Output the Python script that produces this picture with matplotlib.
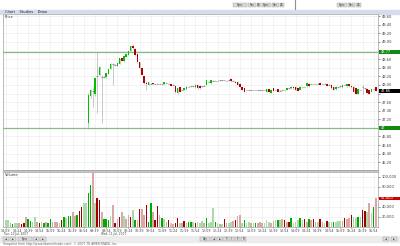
import matplotlib.pyplot as plt
from matplotlib.patches import Rectangle

# Wed 11 Jul 2007, 3-minute candles (the Tue 10 Jul bars fall outside the price scale)
opens = [
    47.11, 47.74, 47.86, 47.78, 48.20, 48.22, 48.19, 48.19, 48.18, 48.26,
    48.37, 48.48, 48.46, 48.44, 48.49, 48.62, 48.55, 48.66, 48.70, 48.78,
    48.90, 48.84, 48.72, 48.53, 48.39, 48.20, 48.05, 48.00, 48.03, 48.04,
    48.02, 48.02, 48.03, 48.02, 48.01, 48.04, 48.03, 48.02, 48.00, 47.97,
    47.81, 47.94, 47.88, 47.88, 47.90, 47.96, 47.97, 47.97, 47.94, 48.00,
    47.98, 47.97, 47.98, 48.00, 48.07, 48.04, 48.10, 48.10, 48.10, 48.11,
    48.11, 48.11, 48.10, 48.11, 48.13, 48.10, 48.07, 48.07, 48.03, 47.96,
    47.92, 47.88, 47.88, 47.88, 47.88, 47.88, 47.88, 47.88, 47.88, 47.88,
    47.84, 47.90, 47.82, 47.92, 47.88, 47.90, 47.86, 47.88, 47.88, 47.88,
    47.92, 47.92, 47.96, 47.96, 47.92, 47.88, 47.94, 47.94, 47.97, 48.03,
    48.02, 48.02, 48.02, 48.03, 48.05, 48.03, 48.03, 48.03, 48.01, 48.00,
    47.96, 47.90, 47.94, 47.97, 47.94, 48.00, 47.97, 48.02, 47.97, 47.96,
    47.92, 47.80, 47.88, 47.94, 47.92, 47.90, 47.88, 47.84, 47.90, 47.94,
]
highs = [
    47.81, 47.90, 47.95, 48.18, 48.76, 48.43, 48.24, 48.21, 48.28, 48.38,
    48.50, 48.51, 48.48, 48.52, 48.63, 48.63, 48.68, 48.73, 48.80, 48.92,
    48.96, 48.86, 48.75, 48.54, 48.40, 48.21, 48.08, 48.07, 48.05, 48.05,
    48.03, 48.04, 48.04, 48.03, 48.07, 48.06, 48.04, 48.03, 48.01, 47.98,
    47.93, 47.95, 47.89, 47.93, 47.97, 47.97, 47.98, 47.98, 48.01, 48.01,
    47.99, 47.98, 48.00, 48.12, 48.08, 48.12, 48.11, 48.11, 48.11, 48.12,
    48.12, 48.12, 48.11, 48.12, 48.15, 48.11, 48.08, 48.08, 48.04, 47.97,
    47.93, 47.89, 47.89, 47.89, 47.89, 47.89, 47.89, 47.89, 47.89, 47.89,
    47.91, 47.91, 47.89, 47.93, 47.89, 47.91, 47.87, 47.89, 47.89, 47.93,
    47.93, 47.97, 47.97, 47.97, 47.93, 47.97, 47.95, 47.95, 48.06, 48.04,
    48.03, 48.03, 48.03, 48.04, 48.06, 48.04, 48.04, 48.04, 48.02, 48.01,
    47.97, 47.97, 47.95, 47.98, 48.01, 48.01, 48.03, 48.03, 47.98, 47.97,
    47.93, 47.91, 47.89, 48.00, 47.93, 47.91, 47.89, 47.91, 47.91, 47.95,
]
lows = [
    46.97, 47.70, 47.48, 47.74, 47.34, 48.20, 47.11, 48.17, 48.17, 48.25,
    48.36, 48.00, 48.44, 48.43, 48.48, 48.55, 48.54, 48.65, 48.69, 48.77,
    48.83, 48.68, 48.52, 48.38, 48.22, 48.03, 47.88, 47.99, 48.02, 48.01,
    48.01, 48.01, 48.02, 48.01, 48.00, 48.02, 48.02, 47.98, 47.99, 47.82,
    47.80, 47.83, 47.87, 47.87, 47.89, 47.95, 47.96, 47.96, 47.93, 47.91,
    47.91, 47.96, 47.97, 47.99, 48.06, 48.03, 48.09, 48.09, 48.09, 48.10,
    48.10, 48.10, 48.09, 48.10, 48.07, 48.09, 48.04, 47.99, 47.95, 47.87,
    47.83, 47.87, 47.87, 47.87, 47.87, 47.87, 47.87, 47.87, 47.87, 47.87,
    47.83, 47.83, 47.81, 47.85, 47.87, 47.83, 47.85, 47.87, 47.87, 47.87,
    47.91, 47.91, 47.91, 47.87, 47.85, 47.87, 47.93, 47.93, 47.96, 47.96,
    48.01, 48.01, 48.01, 48.02, 47.99, 48.02, 48.02, 47.97, 47.99, 47.91,
    47.87, 47.89, 47.93, 47.96, 47.93, 47.99, 47.96, 47.96, 47.93, 47.83,
    47.78, 47.79, 47.87, 47.80, 47.91, 47.81, 47.79, 47.83, 47.89, 47.85,
]
closes = [
    47.76, 47.88, 47.87, 48.16, 48.21, 48.41, 48.19, 48.19, 48.27, 48.37,
    48.49, 48.47, 48.45, 48.51, 48.62, 48.56, 48.67, 48.72, 48.79, 48.91,
    48.85, 48.69, 48.53, 48.39, 48.23, 48.04, 48.02, 48.06, 48.03, 48.02,
    48.02, 48.02, 48.03, 48.02, 48.06, 48.04, 48.03, 47.98, 48.00, 47.83,
    47.92, 47.84, 47.88, 47.92, 47.96, 47.96, 47.97, 47.97, 48.00, 47.92,
    47.92, 47.97, 47.99, 48.11, 48.07, 48.11, 48.10, 48.10, 48.10, 48.11,
    48.11, 48.11, 48.10, 48.11, 48.08, 48.10, 48.05, 48.00, 47.96, 47.88,
    47.84, 47.88, 47.88, 47.88, 47.88, 47.88, 47.88, 47.88, 47.88, 47.88,
    47.90, 47.84, 47.88, 47.86, 47.88, 47.84, 47.86, 47.88, 47.88, 47.92,
    47.92, 47.96, 47.92, 47.88, 47.86, 47.96, 47.94, 47.94, 48.05, 47.97,
    48.02, 48.02, 48.02, 48.03, 48.00, 48.03, 48.03, 47.98, 48.00, 47.92,
    47.88, 47.96, 47.94, 47.97, 48.00, 48.00, 48.02, 47.97, 47.94, 47.84,
    47.79, 47.90, 47.88, 47.94, 47.92, 47.82, 47.80, 47.90, 47.90, 47.86,
]

# volume in thousands of shares, both days (37 bars on Tue, 130 on Wed)
volumes = [
    13, 13, 7, 5, 7, 8, 7, 5, 8, 19,
    15, 12, 10, 19, 10, 8, 10, 7, 10, 7,
    15, 10, 10, 10, 8, 13, 19, 17, 21, 21,
    30, 21, 23, 32, 40, 48, 48, 67, 83, 107,
    48, 57, 53, 30, 15, 15, 13, 21, 43, 8,
    15, 20, 30, 21, 15, 23, 19, 33, 13, 13,
    35, 35, 23, 43, 10, 48, 30, 13, 41, 23,
    17, 15, 10, 13, 7, 5, 8, 17, 7, 8,
    12, 8, 10, 10, 10, 7, 10, 7, 12, 8,
    17, 8, 10, 37, 10, 7, 5, 5, 15, 8,
    7, 10, 12, 13, 21, 23, 8, 13, 7, 10,
    7, 7, 8, 7, 10, 8, 8, 13, 10, 8,
    12, 13, 13, 13, 15, 13, 10, 10, 17, 8,
    10, 13, 17, 13, 15, 10, 15, 13, 15, 10,
    10, 15, 10, 8, 12, 10, 10, 10, 10, 12,
    12, 12, 17, 15, 17, 23, 19, 17, 19, 20,
    33, 32, 30, 47, 28, 40, 57,
]
vol_codes = list(
    "ggrGggrRRr" "GGggrRgGrG" "GrrrgRGgGG" "rrGRRggGGr" "gRRrGGGgrR"
    "rRrgrrRgGr" "RrrRGGrRRr" "GgrRgrRRgr" "RgGGgRgggr" "GgggGgrgRr"
    "ggrRrrgGgg" "rgGrrrgggr" "rgGgrRrRGg" "ggGgRrGrRr" "gRrgRggGgg"
    "grRrrRggGg" "RRgrgGr"
)

day1_bars = 37
day1_start = 14 * 60 + 9
day2_start = 9 * 60 + 30
price_ticks = [46.2, 46.4, 46.6, 46.8, 47.0, 47.2, 47.4, 47.6, 47.8, 48.0,
               48.2, 48.4, 48.6, 48.8, 49.0, 49.2, 49.4, 49.6]
vol_ticks = [20, 40, 60, 80, 100]
level_hi = 48.77
level_lo = 47.00

vol_cmap = {'G': '#00aa00', 'g': '#a8dca8', 'R': '#a00000', 'r': '#d8a8a8'}
grid_c = '#efefef'
txt_c = '#404040'

fig = plt.figure(figsize=(4, 2.46), dpi=100)

# frame pieces in pixel coordinates
bg = fig.add_axes([0, 0, 1, 1])
bg.set_xlim(0, 400)
bg.set_ylim(246, 0)
bg.axis('off')
bg.add_patch(Rectangle((0, 9.5), 400, 4, color='#d6dbee'))
bg.text(5, 11.6, 'Chart    Studies    Draw', fontsize=2.6, va='center', color='#222')
for bx, bw, lab in [(233, 14, 'Sync'), (248, 8, 'Sec'), (257, 4, 'ZS'), (262, 9, 'Sync'),
                    (272, 7, 'Sec'), (280, 4, 'ZS'), (337, 10, 'Sync'), (348, 7, 'Sec'),
                    (356, 5, 'ZS')]:
    bg.add_patch(Rectangle((bx, 3), bw, 4, facecolor='#d8d8d8', edgecolor='#a8a8a8', lw=0.3))
    bg.text(bx + bw / 2, 5, lab, fontsize=2, ha='center', va='center', color='#333')
bg.plot([295, 295], [0, 8.5], color='#909090', lw=0.8)
bg.add_patch(Rectangle((3, 170), 375, 2, color='#c4c4c4'))
bg.add_patch(Rectangle((0, 235.5), 400, 6, color='#ececec'))
for bx, bw, lab in [(3, 6, '◄'), (10, 6, '►'), (18, 14, 'Sync'), (33, 6, '◄'), (40, 6, '►'),
                    (200, 10, 'Day'), (211, 5, '◄'), (217, 5, '►'), (223, 5, 'T'), (229, 5, 'I'),
                    (235, 5, 'F'), (241, 5, 'R'), (383, 6, '◄'), (391, 6, '►')]:
    bg.add_patch(Rectangle((bx, 236.5), bw, 4, facecolor='#dcdcdc', edgecolor='#999', lw=0.3))
    bg.text(bx + bw / 2, 238.6, lab, fontsize=1.8, ha='center', va='center', color='#222')
bg.text(3, 244, 'Snapshot from http://www.tdameritrade.com/  \u00a9 2007 TD AMERITRADE, Inc.',
        fontsize=2.2, va='center', color='#666')

n_bars = len(volumes)
xlim = (-1.3, n_bars - 0.05)

# price panel
ax = fig.add_axes([3 / 400, 1 - 170 / 246, 375 / 400, 156 / 246])
ax.set_xlim(*xlim)
ax.set_ylim(46.02, 49.65)
for i in range(0, n_bars, 5):
    ax.axvline(i, color=grid_c, lw=0.5, zorder=0)
for p in price_ticks:
    ax.axhline(p, color=grid_c, lw=0.5, zorder=0)
ax.axhline(level_hi, color='#8ab88a', lw=0.9, zorder=1)
ax.axhline(level_lo, color='#8ab88a', lw=0.9, zorder=1)

for k in range(len(opens)):
    x = day1_bars + k
    o, h, l, c = opens[k], highs[k], lows[k], closes[k]
    ax.vlines(x, l, h, color='#a0a0a0', lw=0.4, zorder=2)
    if abs(c - o) < 0.015:
        ax.hlines((o + c) / 2, x - 0.35, x + 0.35, color='#808080', lw=0.6, zorder=3)
    else:
        col = '#00c000' if c > o else '#b00000'
        ax.bar(x, c - o, bottom=o, width=0.7, color=col, lw=0, zorder=3)

# tick labels that sit under the coloured tags are hidden by them
covered = [level_lo, 48.8, 47.8]
ax.yaxis.tick_right()
ax.set_yticks(price_ticks)
ax.set_yticklabels(['' if min(abs(p - q) for q in covered) < 0.01 else '%.2f' % p
                    for p in price_ticks])
ax.set_xticks([])
ax.tick_params(axis='y', labelsize=2.6, pad=1.2, length=1.2, width=0.4, colors=txt_c)
for s in ax.spines.values():
    s.set_color('#a0a0a0')
    s.set_linewidth(0.5)
ax.text(0.005, 0.995, 'Price', transform=ax.transAxes, fontsize=2.6, va='top', color='#333')


def axis_tag(a, y, text, fc, h):
    tr = a.get_yaxis_transform()
    a.add_patch(Rectangle((1.003, y - h / 2), 0.055, h, transform=tr, facecolor=fc,
                          edgecolor='none', clip_on=False, zorder=5))
    a.text(1.007, y, text, transform=tr, fontsize=2.6, color='white', va='center',
           ha='left', clip_on=False, zorder=6)


axis_tag(ax, level_hi, '%.2f' % level_hi, '#108a10', 0.1)
axis_tag(ax, level_lo, '47', '#108a10', 0.1)
axis_tag(ax, closes[-1], '%.2f' % closes[-1], '#000000', 0.1)

# volume panel
av = fig.add_axes([3 / 400, 1 - 227 / 246, 375 / 400, 55 / 246])
av.set_xlim(*xlim)
av.set_ylim(-0.6, 109.4)
for i in range(0, n_bars, 5):
    av.axvline(i, color=grid_c, lw=0.5, zorder=0)
for v in vol_ticks:
    av.axhline(v, color=grid_c, lw=0.5, zorder=0)
av.bar(range(n_bars), volumes, width=0.7, color=[vol_cmap[c] for c in vol_codes], lw=0, zorder=2)
av.yaxis.tick_right()
av.set_yticks(vol_ticks)
av.set_yticklabels(['' if abs(v - volumes[-1]) < 5 else '{:,}'.format(v * 1000)
                    for v in vol_ticks])


def bar_time(i):
    m = day1_start + 3 * i if i < day1_bars else day2_start + 3 * (i - day1_bars)
    return '%02d:%02d' % (m // 60, m % 60)


tick_idx = list(range(0, n_bars, 5))
av.set_xticks(tick_idx)
av.set_xticklabels([bar_time(i) for i in tick_idx])
av.tick_params(axis='y', labelsize=2.6, pad=1.2, length=1.2, width=0.4, colors=txt_c)
av.tick_params(axis='x', labelsize=2.3, pad=0.5, length=1.0, width=0.4, colors=txt_c)
for s in av.spines.values():
    s.set_color('#a0a0a0')
    s.set_linewidth(0.5)
av.text(0.005, 0.985, 'Volume', transform=av.transAxes, fontsize=2.6, va='top', color='#333')
tr = av.get_yaxis_transform()
av.add_patch(Rectangle((1.003, volumes[-1] - 3), 0.055, 6, transform=tr, facecolor='#cc0000',
                       edgecolor='none', clip_on=False, zorder=5))
av.text(1.007, volumes[-1], '{:,}'.format(volumes[-1] * 1000), transform=tr, fontsize=2.6,
        color='white', va='center', clip_on=False, zorder=6)

bg.text(4, 234.4, 'Tue, 10 Jul, 2007', fontsize=2.1, va='center', color=txt_c)
bg.text(101, 234.4, 'Wed, 11 Jul, 2007', fontsize=2.1, va='center', color=txt_c)

fig.savefig('out.png', dpi=100)
